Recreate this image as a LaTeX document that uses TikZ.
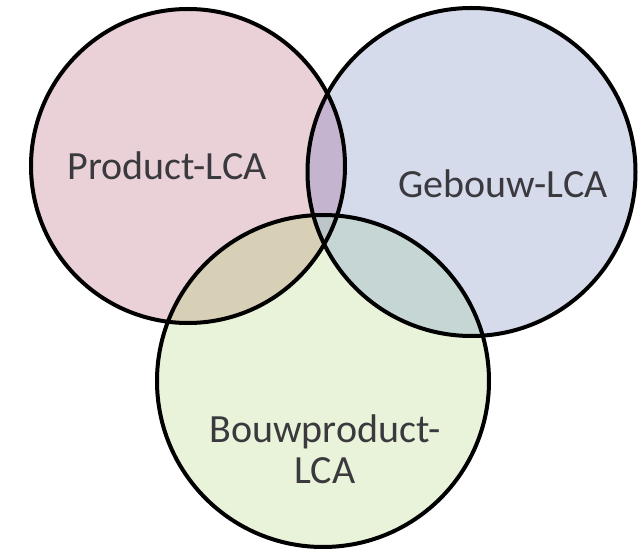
\documentclass[tikz,border=0pt]{standalone}
\usepackage{fontspec}
\setmainfont{Carlito}
\definecolor{pinkF}{RGB}{233,209,215}
\definecolor{blueF}{RGB}{214,219,236}
\definecolor{greenF}{RGB}{233,243,218}
\definecolor{pbF}{RGB}{197,180,207}
\definecolor{pgF}{RGB}{216,208,182}
\definecolor{bgF}{RGB}{197,214,212}
\definecolor{pbgF}{RGB}{188,198,200}
\definecolor{txt}{RGB}{58,58,62}
\tikzset{
  ring/.style={circle, draw=black, line width=3pt, inner sep=0pt},
  lbl/.style={text=txt, font=\fontsize{30}{30.5}\selectfont, align=center, inner sep=0pt}
}
\begin{document}
\begin{tikzpicture}[x=0.75pt,y=-0.75pt]
\useasboundingbox (0,0) rectangle (643,552);
\fill[white] (0,0) rectangle (643,552);
% base fills
\fill[pinkF] (188,166) circle[radius=157];
\fill[blueF] (471.5,172) circle[radius=164];
\fill[greenF] (323,381) circle[radius=166];
% pairwise overlaps
\begin{scope}
  \clip (188,166) circle[radius=157];
  \fill[pbF] (471.5,172) circle[radius=164];
  \fill[pgF] (323,381) circle[radius=166];
  \clip (471.5,172) circle[radius=164];
  \fill[pbgF] (323,381) circle[radius=166];
\end{scope}
\begin{scope}
  \clip (471.5,172) circle[radius=164];
  \clip (323,381) circle[radius=166];
  \fill[bgF] (0,0) rectangle (643,552);
  \clip (188,166) circle[radius=157];
  \fill[pbgF] (0,0) rectangle (643,552);
\end{scope}
% outlines
\node[ring, minimum size=235.5pt] (c1) at (188,166) {};
\node[ring, minimum size=246pt] (c2) at (471.5,172) {};
\node[ring, minimum size=249pt] (c3) at (323,381) {};
% labels
\node[lbl] (t1) at (167,166) {Product-LCA};
\node[lbl] (t2) at (503,184) {Gebouw-LCA};
\node[lbl] (t3) at (325,449) {Bouwproduct-\\LCA};
\end{tikzpicture}
\end{document}
